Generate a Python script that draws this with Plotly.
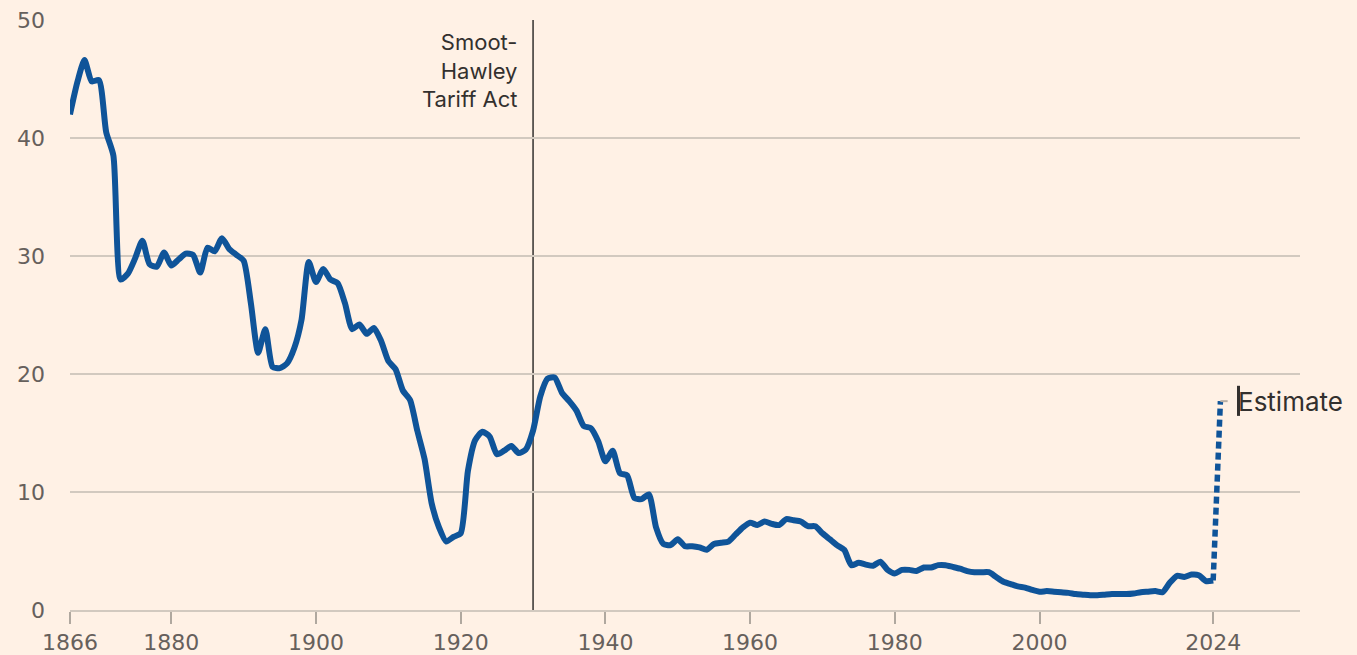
import plotly.graph_objects as go

# ---- data ----
years = list(range(1866, 2025))
tariff = [
    42.0, 44.7, 46.6, 44.8, 44.9, 40.5, 38.5, 28.0, 28.5, 29.8,   # 1866-1875
    31.3, 29.3, 29.1, 30.3, 29.2, 29.7, 30.2, 30.1, 28.6, 30.7,   # 1876-1885
    30.4, 31.5, 30.6, 30.1, 29.6, 26.0, 21.8, 23.8, 20.6, 20.5,   # 1886-1895
    20.9, 22.2, 24.6, 29.5, 27.8, 28.9, 28.0, 27.7, 26.0, 23.8,   # 1896-1905
    24.2, 23.4, 23.9, 22.8, 21.1, 20.4, 18.6, 17.8, 15.2, 12.8,   # 1906-1915
    9.0, 7.0, 5.8, 6.2, 6.5, 11.8, 14.4, 15.1, 14.7, 13.2,        # 1916-1925
    13.5, 13.9, 13.3, 13.6, 15.2, 18.1, 19.6, 19.7, 18.4, 17.7,   # 1926-1935
    16.9, 15.6, 15.4, 14.3, 12.6, 13.5, 11.6, 11.4, 9.5, 9.4,     # 1936-1945
    9.8, 7.0, 5.6, 5.5, 6.0, 5.4, 5.4, 5.3, 5.1, 5.6,             # 1946-1955
    5.7, 5.8, 6.4, 7.0, 7.4, 7.2, 7.5, 7.3, 7.2, 7.7,             # 1956-1965
    7.6, 7.5, 7.1, 7.1, 6.5, 6.0, 5.5, 5.1, 3.8, 4.0,             # 1966-1975
    3.85, 3.75, 4.1, 3.4, 3.1, 3.4, 3.4, 3.3, 3.6, 3.6,           # 1976-1985
    3.8, 3.8, 3.65, 3.5, 3.3, 3.2, 3.2, 3.2, 2.8, 2.4,            # 1986-1995
    2.2, 2.0, 1.9, 1.7, 1.55, 1.6, 1.55, 1.5, 1.45, 1.35,         # 1996-2005
    1.3, 1.25, 1.25, 1.3, 1.35, 1.35, 1.35, 1.4, 1.5, 1.55,       # 2006-2015
    1.6, 1.5, 2.3, 2.9, 2.8, 3.0, 2.95, 2.45, 2.5,                # 2016-2024
]
estimate_years = [2024, 2025]
estimate_values = [2.5, 17.7]

event_year = 1930
event_label = "Smoot-<br>Hawley<br>Tariff Act"
estimate_label = "Estimate"

x_tickvals = [1866, 1880, 1900, 1920, 1940, 1960, 1980, 2000, 2024]
y_tickvals = [0, 10, 20, 30, 40, 50]

# ---- styles ----
BG = "#FFF1E5"
BLUE = "#0F5499"
GRID = "#D2C9BF"
TICKTXT = "#66605C"
DARK = "#33302E"
FONT = "Inter"
TICKFONT = "DejaVu Sans"

fig = go.Figure()

fig.add_trace(go.Scatter(
    x=years, y=tariff, mode="lines",
    line=dict(color=BLUE, width=6, shape="spline", smoothing=0.6),
    hoverinfo="skip", showlegend=False, cliponaxis=False,
))
fig.add_trace(go.Scatter(
    x=estimate_years, y=estimate_values, mode="lines",
    line=dict(color=BLUE, width=5.5, dash="7px,4px"),
    hoverinfo="skip", showlegend=False,
))

# Smoot-Hawley vertical marker
fig.add_shape(type="line", xref="x", yref="y",
              x0=event_year, x1=event_year, y0=0, y1=50,
              line=dict(color=DARK, width=1.5), layer="below")
fig.add_annotation(x=event_year, y=50, xref="x", yref="y",
                   text=event_label, showarrow=False,
                   xanchor="right", yanchor="top", align="right",
                   xshift=-14, yshift=-7,
                   font=dict(family=FONT, size=22, color=DARK))

# Estimate label
est_x = estimate_years[-1]
est_y = estimate_values[-1]
fig.add_shape(type="line", xref="x", yref="y",
              x0=est_x, x1=est_x + 1, y0=est_y, y1=est_y,
              line=dict(color="#B8AFA6", width=2))
fig.add_shape(type="line", xref="x", yref="y",
              x0=est_x + 2.5, x1=est_x + 2.5, y0=est_y - 1.25, y1=est_y + 1.3,
              line=dict(color=DARK, width=3))
fig.add_annotation(x=est_x + 2.5, y=est_y, xref="x", yref="y",
                   text=estimate_label, showarrow=False,
                   xanchor="left", yanchor="middle", xshift=-3,
                   font=dict(family=FONT, size=26, color=DARK))

fig.update_layout(
    width=1357, height=655,
    paper_bgcolor=BG, plot_bgcolor=BG,
    margin=dict(l=70, r=57, t=20, b=45, autoexpand=False),
    font=dict(family=FONT, size=22, color=TICKTXT),
    showlegend=False,
)
fig.update_xaxes(
    range=[1866, 2036], tickvals=x_tickvals, automargin=False,
    showgrid=False, zeroline=False,
    showline=True, linecolor=GRID, linewidth=1.6,
    ticks="outside", ticklen=12, tickwidth=1.6, tickcolor="#B0A89F",
    tickfont=dict(family=TICKFONT, size=22, color=TICKTXT),
)
fig.update_yaxes(
    range=[0, 50], tickvals=y_tickvals, automargin=False,
    showgrid=True, gridcolor=GRID, gridwidth=1.6,
    zeroline=False, showline=False, ticks="",
    ticklabelstandoff=24,
    tickfont=dict(family=TICKFONT, size=22, color=TICKTXT),
)

fig.write_html(
    "out.html",
    config={"displayModeBar": False},
    post_script="document.body.style.margin='0';document.body.style.background='#FFF1E5';",
)
